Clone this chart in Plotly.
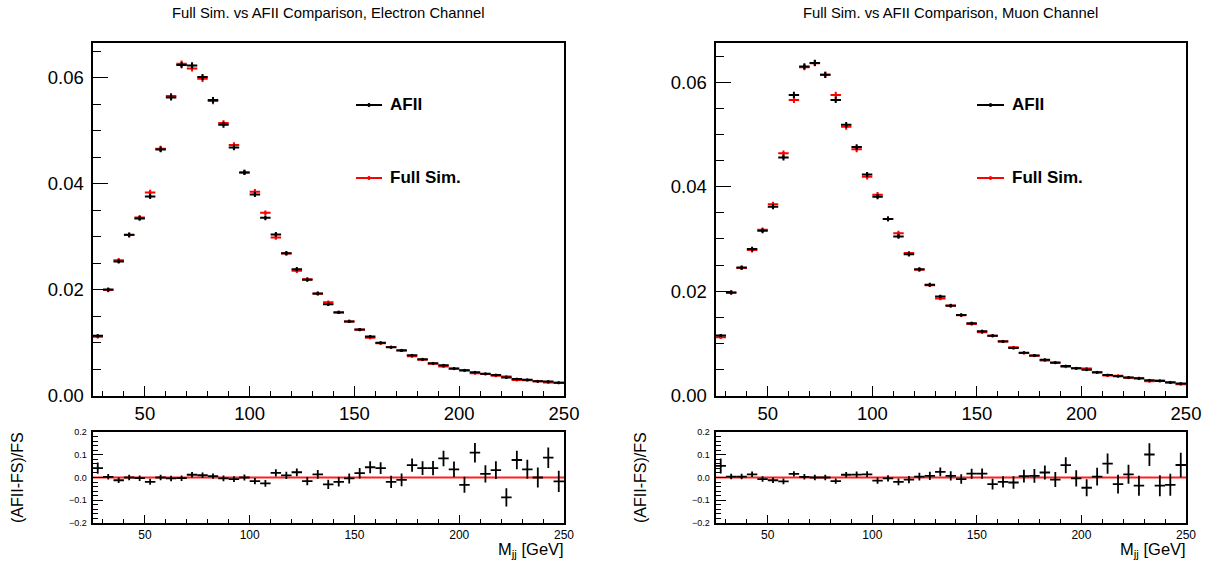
import plotly.graph_objects as go

# ---------------- data ----------------
mass = [27.5, 32.5, 37.5, 42.5, 47.5, 52.5, 57.5, 62.5, 67.5, 72.5,
        77.5, 82.5, 87.5, 92.5, 97.5, 102.5, 107.5, 112.5, 117.5, 122.5,
        127.5, 132.5, 137.5, 142.5, 147.5, 152.5, 157.5, 162.5, 167.5, 172.5,
        177.5, 182.5, 187.5, 192.5, 197.5, 202.5, 207.5, 212.5, 217.5, 222.5,
        227.5, 232.5, 237.5, 242.5, 247.5]
half_bin = 2.5

ele_afii = [0.01127, 0.02000, 0.02531, 0.03035, 0.03343, 0.03759, 0.04646, 0.05629, 0.06239, 0.06233,
            0.06013, 0.05578, 0.05112, 0.04684, 0.04212, 0.03796, 0.03356, 0.03041, 0.02688, 0.02386,
            0.02185, 0.01927, 0.01725, 0.01568, 0.01398, 0.01247, 0.01114, 0.00995, 0.00910, 0.00850,
            0.00761, 0.00686, 0.00610, 0.00572, 0.00510, 0.00478, 0.00440, 0.00410, 0.00385, 0.00340,
            0.00310, 0.00296, 0.00270, 0.00262, 0.00240]
ele_fs = [0.01108, 0.01990, 0.02556, 0.03030, 0.03362, 0.03834, 0.04659, 0.05654, 0.06265, 0.06176,
          0.05981, 0.05559, 0.05144, 0.04728, 0.04212, 0.03847, 0.03450, 0.02984, 0.02680, 0.02355,
          0.02197, 0.01922, 0.01763, 0.01570, 0.01398, 0.01240, 0.01089, 0.00988, 0.00915, 0.00855,
          0.00740, 0.00673, 0.00600, 0.00547, 0.00505, 0.00470, 0.00420, 0.00404, 0.00373, 0.00360,
          0.00295, 0.00290, 0.00270, 0.00245, 0.00242]
ele_err = [0.00030, 0.00040, 0.00040, 0.00045, 0.00045, 0.00050, 0.00055, 0.00060, 0.00060, 0.00060,
           0.00060, 0.00060, 0.00055, 0.00055, 0.00050, 0.00050, 0.00045, 0.00045, 0.00040, 0.00040,
           0.00038, 0.00035, 0.00033, 0.00030, 0.00030, 0.00028, 0.00027, 0.00025, 0.00024, 0.00023,
           0.00022, 0.00021, 0.00020, 0.00019, 0.00018, 0.00017, 0.00016, 0.00015, 0.00015, 0.00014,
           0.00013, 0.00013, 0.00012, 0.00012, 0.00011]
ele_ratio = [0.041, 0.003, -0.012, 0.000, -0.003, -0.019, 0.000, -0.004, -0.003, 0.012,
             0.010, 0.006, -0.004, -0.007, 0.000, -0.016, -0.026, 0.020, 0.009, 0.023,
             -0.016, 0.014, -0.030, -0.019, -0.004, 0.019, 0.045, 0.041, -0.019, -0.010,
             0.054, 0.041, 0.041, 0.084, 0.036, -0.032, 0.109, 0.016, 0.032, -0.087,
             0.077, 0.036, 0.000, 0.087, -0.017]
ele_ratio_err = [0.025, 0.012, 0.012, 0.012, 0.012, 0.013, 0.012, 0.012, 0.012, 0.012,
                 0.012, 0.012, 0.013, 0.013, 0.013, 0.014, 0.015, 0.016, 0.016, 0.017,
                 0.018, 0.019, 0.020, 0.021, 0.022, 0.023, 0.026, 0.026, 0.027, 0.028,
                 0.029, 0.030, 0.031, 0.034, 0.034, 0.035, 0.043, 0.038, 0.039, 0.040,
                 0.041, 0.042, 0.044, 0.045, 0.047]

muo_afii = [0.01149, 0.01975, 0.02451, 0.02806, 0.03156, 0.03619, 0.04559, 0.05759, 0.06305, 0.06374,
            0.06146, 0.05663, 0.05187, 0.04762, 0.04235, 0.03810, 0.03384, 0.03048, 0.02705, 0.02419,
            0.02121, 0.01898, 0.01721, 0.01543, 0.01384, 0.01232, 0.01143, 0.01035, 0.00908, 0.00819,
            0.00768, 0.00686, 0.00629, 0.00565, 0.00521, 0.00495, 0.00444, 0.00394, 0.00368, 0.00343,
            0.00324, 0.00292, 0.00279, 0.00248, 0.00229]
muo_fs = [0.01117, 0.01970, 0.02445, 0.02787, 0.03175, 0.03663, 0.04641, 0.05663, 0.06292, 0.06368,
          0.06146, 0.05759, 0.05149, 0.04717, 0.04190, 0.03848, 0.03384, 0.03111, 0.02730, 0.02410,
          0.02115, 0.01860, 0.01725, 0.01540, 0.01370, 0.01212, 0.01146, 0.01040, 0.00925, 0.00814,
          0.00762, 0.00672, 0.00634, 0.00552, 0.00523, 0.00518, 0.00442, 0.00381, 0.00378, 0.00338,
          0.00336, 0.00273, 0.00288, 0.00256, 0.00217]
muo_err = [0.00030, 0.00040, 0.00040, 0.00045, 0.00045, 0.00050, 0.00055, 0.00060, 0.00060, 0.00060,
           0.00060, 0.00060, 0.00055, 0.00055, 0.00050, 0.00050, 0.00045, 0.00045, 0.00040, 0.00040,
           0.00038, 0.00035, 0.00033, 0.00030, 0.00030, 0.00028, 0.00027, 0.00025, 0.00024, 0.00023,
           0.00022, 0.00021, 0.00020, 0.00019, 0.00018, 0.00017, 0.00016, 0.00015, 0.00015, 0.00014,
           0.00013, 0.00013, 0.00012, 0.00012, 0.00011]
muo_ratio = [0.051, 0.004, 0.004, 0.014, -0.007, -0.012, -0.017, 0.016, 0.003, 0.000,
             0.000, -0.016, 0.012, 0.013, 0.014, -0.014, -0.004, -0.019, -0.009, 0.004,
             0.007, 0.025, 0.007, -0.007, 0.017, 0.017, -0.029, -0.019, -0.022, 0.006,
             0.007, 0.022, -0.009, 0.054, -0.004, -0.045, 0.004, 0.061, -0.029, 0.014,
             -0.036, 0.101, -0.036, -0.032, 0.055]
muo_ratio_err = [0.033, 0.012, 0.012, 0.012, 0.012, 0.012, 0.013, 0.012, 0.012, 0.012,
                 0.012, 0.012, 0.012, 0.013, 0.013, 0.014, 0.014, 0.015, 0.016, 0.017,
                 0.018, 0.019, 0.020, 0.021, 0.022, 0.023, 0.024, 0.025, 0.027, 0.028,
                 0.030, 0.031, 0.033, 0.035, 0.036, 0.037, 0.039, 0.045, 0.041, 0.042,
                 0.044, 0.050, 0.046, 0.048, 0.054]

titles = ["Full Sim. vs AFII Comparison, Electron Channel",
          "Full Sim. vs AFII Comparison, Muon Channel"]
legend_names = ["AFII", "Full Sim."]
y_tops = [0.06656, 0.06755]

# ---------------- layout geometry (pixels) ----------------
W, H = 1208, 561
FONT = "Liberation Sans, Arial, Helvetica, sans-serif"
panels_x = [(92.5, 564.0), (715.5, 1186.0)]
top_y = (43.0, 395.5)
rat_y = (432.0, 523.0)


def px(x):
    return x / W


def py(y):
    return 1 - y / H


fig = go.Figure()


def add_series(x, y, err, color, xa, ya, msize=3, thick=2.0):
    fig.add_trace(go.Scatter(
        x=x, y=y, mode="markers", xaxis=xa, yaxis=ya, showlegend=False,
        marker=dict(size=msize, color=color, symbol="circle"),
        error_x=dict(type="constant", value=half_bin, color=color, thickness=thick, width=0),
        error_y=dict(type="data", array=err, color=color, thickness=thick, width=0),
        hoverinfo="skip"))


# top panels: draw Full Sim first (red) then AFII (black) on top
add_series(mass, ele_fs, ele_err, "#ff0000", "x", "y")
add_series(mass, ele_afii, ele_err, "#000000", "x", "y")
add_series(mass, muo_fs, muo_err, "#ff0000", "x2", "y2")
add_series(mass, muo_afii, muo_err, "#000000", "x2", "y2")

# ratio panels
add_series(mass, ele_ratio, ele_ratio_err, "#000000", "x3", "y3", msize=1, thick=1.8)
add_series(mass, muo_ratio, muo_ratio_err, "#000000", "x4", "y4", msize=1, thick=1.8)


def xaxis_cfg(dom, anchor, fs, tl, mtl):
    return dict(domain=[px(dom[0]), px(dom[1])], anchor=anchor, range=[25, 250],
                tick0=0, dtick=50, ticks="inside", ticklen=tl, tickwidth=1, tickcolor="black",
                minor=dict(dtick=10, tick0=0, ticks="inside", ticklen=mtl, tickwidth=1, tickcolor="black"),
                showline=True, linewidth=2, linecolor="black", mirror=True,
                showgrid=False, zeroline=False, automargin=False,
                tickfont=dict(family=FONT, size=fs, color="black"))


def yaxis_cfg(dom, anchor, rng, dtick, mdtick, fmt, fs, tl, mtl, standoff):
    return dict(domain=[py(dom[1]), py(dom[0])], anchor=anchor, range=rng,
                tick0=0, dtick=dtick, tickformat=fmt, ticks="inside", ticklen=tl, tickwidth=1,
                tickcolor="black", ticklabelstandoff=standoff,
                minor=dict(dtick=mdtick, tick0=0, ticks="inside", ticklen=mtl, tickwidth=1, tickcolor="black"),
                showline=True, linewidth=2, linecolor="black", mirror=True,
                showgrid=False, zeroline=False, automargin=False,
                tickfont=dict(family=FONT, size=fs, color="black"))


layout = dict(
    width=W, height=H, margin=dict(l=0, r=0, t=0, b=0, autoexpand=False),
    paper_bgcolor="white", plot_bgcolor="white", showlegend=False,
    xaxis=xaxis_cfg(panels_x[0], "y", 18.5, 10, 5),
    yaxis=yaxis_cfg(top_y, "x", [0, y_tops[0]], 0.02, 0.005, ".2f", 18.5, 15, 8, 3),
    xaxis2=xaxis_cfg(panels_x[1], "y2", 18.5, 10, 5),
    yaxis2=yaxis_cfg(top_y, "x2", [0, y_tops[1]], 0.02, 0.005, ".2f", 18.5, 15, 8, 3),
    xaxis3=xaxis_cfg(panels_x[0], "y3", 12, 8, 4),
    yaxis3=yaxis_cfg(rat_y, "x3", [-0.2, 0.2], 0.1, 0.02, ".1f", 9, 10, 5, 2),
    xaxis4=xaxis_cfg(panels_x[1], "y4", 12, 8, 4),
    yaxis4=yaxis_cfg(rat_y, "x4", [-0.2, 0.2], 0.1, 0.02, ".1f", 9, 10, 5, 2),
)
fig.update_layout(**layout)

# zero reference line in ratio panels
for xa, ya in (("x3", "y3"), ("x4", "y4")):
    fig.add_shape(type="line", xref=xa, yref=ya, x0=25, x1=250, y0=0, y1=0,
                  line=dict(color="#ff2020", width=2), layer="below")

annotations = []
for i, (x0, x1) in enumerate(panels_x):
    # panel title
    annotations.append(dict(text=titles[i], x=px((x0 + x1) / 2), y=py(13), xref="paper", yref="paper",
                            showarrow=False, xanchor="center", yanchor="middle",
                            font=dict(family=FONT, size=14.8, color="black")))
    # ratio y title
    annotations.append(dict(text="(AFII-FS)/FS", x=px(x0 - 75), y=py((rat_y[0] + rat_y[1]) / 2),
                            xref="paper", yref="paper", showarrow=False, textangle=-90,
                            xanchor="center", yanchor="middle",
                            font=dict(family=FONT, size=16, color="black")))
    # x title
    annotations.append(dict(text="M<sub>jj</sub> [GeV]", x=px(x1 + 2), y=py(550), xref="paper", yref="paper",
                            showarrow=False, xanchor="right", yanchor="middle",
                            font=dict(family=FONT, size=16.5, color="black")))

# legends (drawn in paper coords)
legend_pos = [(356, 382, 388), (977, 1004, 1010)]
legend_rows = [(105, "#000000"), (178, "#ff0000")]
for (lx0, lx1, tx) in legend_pos:
    for j, (ly, col) in enumerate(legend_rows):
        fig.add_shape(type="line", xref="paper", yref="paper", x0=px(lx0), x1=px(lx1), y0=py(ly), y1=py(ly),
                      line=dict(color=col, width=2))
        cx = (lx0 + lx1) / 2
        fig.add_shape(type="circle", xref="paper", yref="paper", x0=px(cx - 1.5), x1=px(cx + 1.5),
                      y0=py(ly + 1.5), y1=py(ly - 1.5), line=dict(color=col, width=1), fillcolor=col)
        annotations.append(dict(text="<b>" + legend_names[j] + "</b>", x=px(tx), y=py(ly), xref="paper",
                                yref="paper", showarrow=False, xanchor="left", yanchor="middle",
                                font=dict(family=FONT, size=17, color="black")))

fig.update_layout(annotations=annotations)
fig.write_html("out.html", config={"displayModeBar": False},
               post_script="document.body.style.margin='0';")
